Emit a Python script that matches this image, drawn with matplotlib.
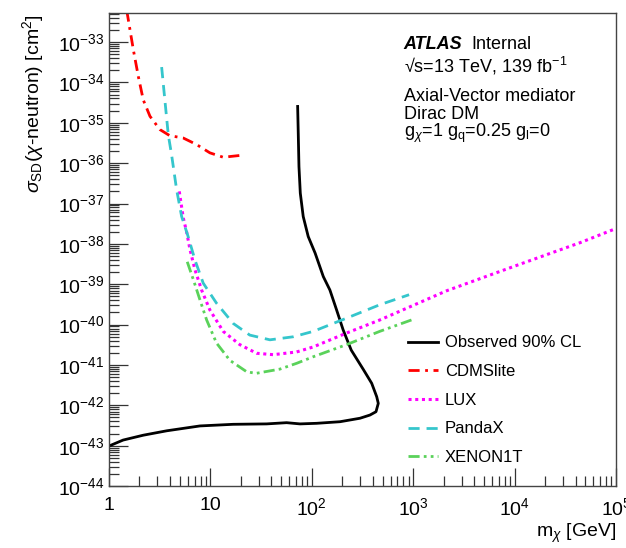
import numpy as np
import matplotlib
matplotlib.use("Agg")
import matplotlib.pyplot as plt
from matplotlib.ticker import LogLocator, NullFormatter, FixedLocator, FixedFormatter

plt.rcParams["font.family"] = ["Liberation Sans", "DejaVu Sans"]
plt.rcParams["mathtext.fontset"] = "custom"
plt.rcParams["mathtext.rm"] = "Liberation Sans"
plt.rcParams["mathtext.it"] = "Liberation Sans:italic"
plt.rcParams["mathtext.bf"] = "Liberation Sans:bold"

# ATLAS observed 90% CL (mass in GeV, cross-section in cm^2)
obs_mass = [1.0, 1.38, 2.18, 3.71, 7.9, 16.8, 35.9, 56.5, 76.6, 112, 190, 299,
            375, 430, 453, 437, 390, 324, 245, 204, 176, 151, 130, 108, 92.3,
            82.4, 77.1, 74.8, 73.6, 72.6]
obs_xsec = [9.8e-44, 1.38e-43, 1.82e-43, 2.34e-43, 3.09e-43, 3.39e-43,
            3.47e-43, 3.72e-43, 3.47e-43, 3.59e-43, 3.93e-43, 4.79e-43,
            5.75e-43, 6.95e-43, 1.12e-42, 1.64e-42, 3.52e-42, 7.6e-42,
            2.34e-41, 7.4e-41, 2.29e-40, 7.2e-40, 1.55e-39, 5.9e-39,
            1.52e-38, 4.76e-38, 1.81e-37, 8.26e-37, 5.56e-36, 2.54e-35]

cdms_mass = [1.5, 1.74, 1.95, 2.18, 2.54, 3.18, 3.98, 5.4, 7.3, 9.9, 13.4, 19.5]
cdms_xsec = [6e-33, 6.5e-34, 1.4e-34, 3.7e-35, 1.45e-35, 6.8e-36, 4.8e-36,
             4.2e-36, 2.9e-36, 1.8e-36, 1.4e-36, 1.55e-36]

lux_mass = [4.94, 5.41, 5.83, 6.31, 7.05, 8.2, 9.9, 13.4, 19.5, 28.6, 41.7,
            70.8, 103.5, 221, 468, 2140, 9770, 44200, 1e5]
lux_xsec = [2.0e-37, 4.4e-38, 2.0e-38, 7.1e-39, 2.3e-39, 7.2e-40, 2.3e-40,
            6.8e-41, 3.2e-41, 1.95e-41, 1.8e-41, 2.1e-41, 2.8e-41, 6.2e-41,
            1.3e-40, 6.9e-40, 2.75e-39, 1.07e-38, 2.4e-38]

panda_mass = [3.31, 3.56, 3.85, 4.15, 4.65, 5.21, 6.05, 7.05, 8.5, 11.5, 16.8,
              24.5, 38.7, 65.8, 103.5, 221, 468, 912]
panda_xsec = [2.4e-34, 3.7e-35, 5.0e-36, 1.6e-36, 2.2e-37, 4.8e-38, 1.5e-38,
              4.0e-39, 1.07e-39, 3.4e-40, 1.07e-40, 5.5e-41, 4.2e-41, 5.0e-41,
              6.8e-41, 1.45e-40, 3.1e-40, 5.5e-40]

xenon_mass = [5.92, 6.8, 7.9, 9.2, 11.5, 15.6, 22.8, 28.2, 48.5, 71, 103.5,
              221, 468, 1000]
xenon_xsec = [3.6e-39, 1.3e-39, 4.1e-40, 1.3e-40, 3.5e-41, 1.3e-41, 6.8e-42,
              6.2e-42, 7.9e-42, 1.1e-41, 1.6e-41, 3.2e-41, 6.8e-41, 1.35e-40]

x_ticks = [1, 10, 1e2, 1e3, 1e4, 1e5]
x_tick_labels = ["1", "10", "$10^{2}$", "$10^{3}$", "$10^{4}$", "$10^{5}$"]
y_exponents = list(range(-44, -32))

fig = plt.figure(figsize=(6.26, 5.48), dpi=100)
ax = fig.add_axes([0.174, 0.113, 0.81, 0.863])

ax.plot(obs_mass, obs_xsec, color="black", lw=2.0, label="Observed 90% CL")
ax.plot(cdms_mass, cdms_xsec, color="#ff0000", lw=2.0,
        dashes=(4, 2, 1, 2), label="CDMSlite")
ax.plot(lux_mass, lux_xsec, color="#ff00ff", lw=2.2,
        dashes=(1, 1.2), label="LUX")
ax.plot(panda_mass, panda_xsec, color="#35c6cc", lw=2.0,
        dashes=(4, 2.5), label="PandaX")
ax.plot(xenon_mass, xenon_xsec, color="#5ad25a", lw=2.0,
        dashes=(4, 1.5, 1, 1.5, 1, 1.5), label="XENON1T")

ax.set_xscale("log")
ax.set_yscale("log")
ax.set_xlim(1, 1e5)
ax.set_ylim(1e-44, 5.2e-33)

ax.xaxis.set_major_locator(FixedLocator(x_ticks))
ax.xaxis.set_major_formatter(FixedFormatter(x_tick_labels))
ax.xaxis.set_minor_locator(LogLocator(base=10, subs=np.arange(2, 10), numticks=20))
ax.xaxis.set_minor_formatter(NullFormatter())
ax.yaxis.set_major_locator(FixedLocator([10.0 ** e for e in y_exponents]))
ax.yaxis.set_major_formatter(FixedFormatter(
    ["$10^{%d}$" % e for e in y_exponents]))
ax.yaxis.set_minor_locator(LogLocator(base=10, subs=np.arange(2, 10), numticks=30))
ax.yaxis.set_minor_formatter(NullFormatter())

ax.tick_params(which="both", direction="in", top=False, right=False,
               labelsize=14, width=0.9, colors="#333333", labelcolor="black")
ax.tick_params(axis="x", which="major", length=13, pad=8)
ax.tick_params(axis="x", which="minor", length=7)
ax.tick_params(axis="y", which="major", length=14, pad=3)
ax.tick_params(axis="y", which="minor", length=7)
for s in ax.spines.values():
    s.set_linewidth(1.0)
    s.set_color("#444444")

fig.text(0.053, 0.974, r"$\sigma_{\mathrm{SD}}$($\chi$-neutron) [cm$^{2}$]",
         rotation=90, ha="center", va="top", fontsize=14)
fig.text(0.984, 0.027, r"m$_{\chi}$ [GeV]", ha="right", va="center", fontsize=14)

fig.text(0.645, 0.9106, "ATLAS", fontsize=13, fontweight="bold",
         fontstyle="italic", va="baseline")
fig.text(0.7524, 0.9106, "Internal", fontsize=13, va="baseline")
fig.text(0.645, 0.8673, "√s=13 TeV, 139 fb$^{-1}$", fontsize=13, va="baseline")
fig.text(0.645, 0.8162, "Axial-Vector mediator", fontsize=13, va="baseline")
fig.text(0.645, 0.7828, "Dirac DM", fontsize=13, va="baseline")
fig.text(0.645, 0.7495, r"g$_{\chi}$=1 g$_{\mathrm{q}}$=0.25 g$_{\mathrm{l}}$=0",
         fontsize=13, va="baseline")

ax.legend(loc="upper left", bbox_to_anchor=(0.652, 0.388),
          bbox_transform=fig.transFigure, frameon=False, fontsize=12,
          handlelength=1.8, handletextpad=0.4, labelspacing=0.82,
          borderpad=0, borderaxespad=0)

fig.savefig("out.png", dpi=100)
